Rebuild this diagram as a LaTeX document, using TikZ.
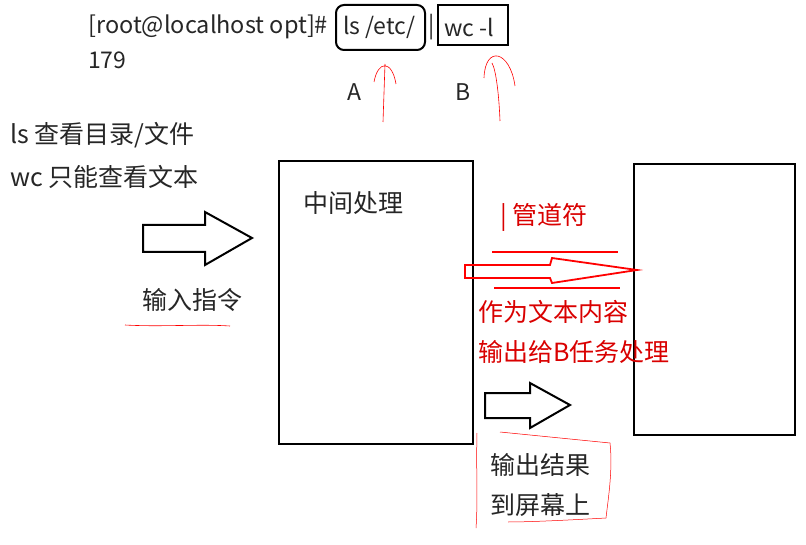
\documentclass[tikz,border=0pt]{standalone}
\usepackage{fontspec}
\setmainfont{Noto Sans CJK SC}
\begin{document}
\begin{tikzpicture}[x=1pt,y=-1pt,
  txt/.style={anchor=west,inner sep=0pt,font=\fontsize{25}{29}\selectfont,text=black!85},
  ctxt/.style={txt,font=\fontsize{23}{27}\selectfont},
  rtxt/.style={txt,text=red!85!black},
  box/.style={draw=black,line width=2.2pt},
  hand/.style={draw=red,line width=0.6pt}]
\useasboundingbox (0,0) rectangle (806,545);
\node[ctxt,font=\fontsize{23.5}{27}\selectfont] (cmd) at (88,27) {[root@localhost opt]\#};
\node[ctxt] (cls) at (343,27) {ls /etc/};
\node[ctxt] (bar) at (428,27) {|};
\node[ctxt] (cwc) at (444,27) {wc -l};
\node[ctxt] (n179) at (88,60) {179};
\draw[line width=2pt,rounded corners=8pt] (336,5) rectangle (425,50);
\draw[line width=2pt] (438,5) rectangle (508,45);
\node[ctxt] (A) at (347,92) {A};
\node[ctxt] (B) at (455,92) {B};
\draw[hand] (383,122) -- (385,64) (374,82) .. controls (378,60) and (392,60) .. (396,84);
\draw[hand] (500,121) .. controls (499,95) and (496,70) .. (492,63) (484,78) .. controls (485,45) and (510,50) .. (515,86);
\node[txt] (ls) at (10,135) {ls 查看目录/文件};
\node[txt] (wc) at (10,177) {wc 只能查看文本};
\draw[line width=2pt] (143,225) -- (205,225) -- (205,212) -- (252,238) -- (205,265) -- (205,252) -- (143,252) -- cycle;
\node[txt] (in) at (142,300) {输入指令};
\draw[hand] (125,325) .. controls (160,327) and (200,324) .. (230,326);
\node[box,minimum width=194,minimum height=283,anchor=north west,inner sep=0pt] (mid) at (278,160) {};
\node[txt] (midt) at (303,203) {中间处理};
\node[box,minimum width=161,minimum height=271,anchor=north west,inner sep=0pt] (right) at (633,163) {};
\node[rtxt] (pipe) at (500,217) {| 管道符};
\draw[red,line width=1.6pt] (492,252) -- (618,252) (494,288) -- (620,288);
\draw[red,line width=1.8pt] (465,265) -- (550,265) -- (552,258) -- (637,270) -- (552,283) -- (550,278) -- (465,278) -- cycle;
\node[rtxt] (t1) at (478,312) {作为文本内容};
\node[rtxt] (t2) at (478,352) {输出给B任务处理};
\draw[line width=2pt] (485,393) -- (530,393) -- (530,383) -- (570,405) -- (530,428) -- (530,418) -- (485,418) -- cycle;
\draw[hand,line width=0.5pt] (477,433) .. controls (476,470) and (478,500) .. (476,528)
  (500,432) .. controls (540,436) and (580,440) .. (610,443) .. controls (613,470) and (608,500) .. (606,518)
  .. controls (570,520) and (530,522) .. (508,522);
\node[txt] (o1) at (490,465) {输出结果};
\node[txt] (o2) at (490,505) {到屏幕上};
\end{tikzpicture}
\end{document}
